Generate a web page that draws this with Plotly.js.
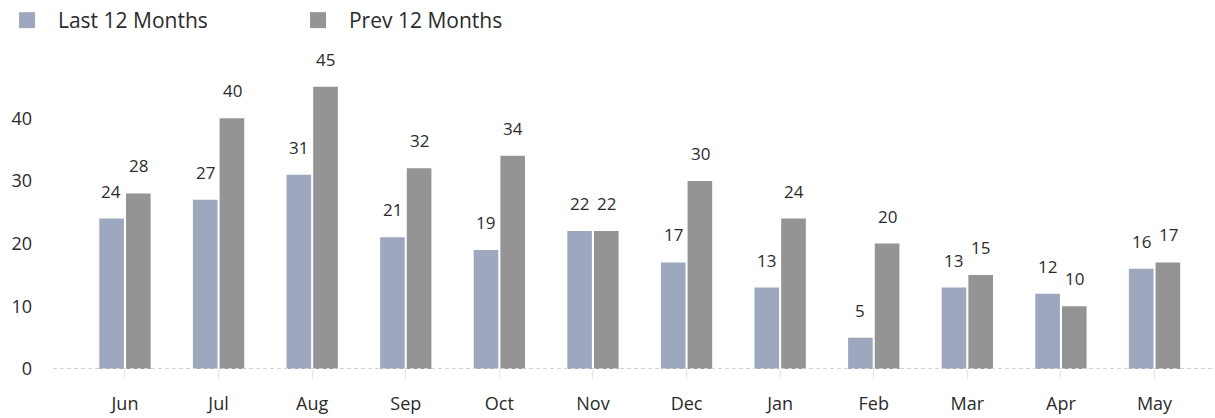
<!DOCTYPE html>
<html>
<head>
<meta charset="utf-8">
<script src="https://cdn.plot.ly/plotly-3.0.1.min.js"></script>
<style>html,body{margin:0;padding:0;background:#fff;}#chart{width:1215px;height:418px;}</style>
</head>
<body>
<div id="chart"></div>
<script>
var months = ["Jun","Jul","Aug","Sep","Oct","Nov","Dec","Jan","Feb","Mar","Apr","May"];
var last12 = [24,27,31,21,19,22,17,13,5,13,12,16];
var prev12 = [28,40,45,32,34,22,30,24,20,15,10,17];
var seriesNames = ["Last 12 Months","Prev 12 Months"];
var seriesColors = ["#9DA8BE","#949494"];
var yTicks = [0,10,20,30,40];

var FONT = "Open Sans, sans-serif";
var TEXT = "#2b2b2b";

var traces = [
  {type:"bar", x:months, y:last12, name:seriesNames[0], marker:{color:seriesColors[0]}, showlegend:false, hoverinfo:"x+y"},
  {type:"bar", x:months, y:prev12, name:seriesNames[1], marker:{color:seriesColors[1]}, showlegend:false, hoverinfo:"x+y"},
  {type:"scatter", mode:"markers", x:[null], y:[null], name:"\u00a0\u00a0" + seriesNames[0], marker:{symbol:"square", size:16, color:seriesColors[0]}},
  {type:"scatter", mode:"markers", x:[null], y:[null], name:"\u00a0\u00a0" + seriesNames[1], marker:{symbol:"square", size:16, color:seriesColors[1]}}
];

var annotations = [];
[last12, prev12].forEach(function(vals, s){
  vals.forEach(function(v, i){
    annotations.push({x:months[i], y:v, xref:"x", yref:"y", text:String(v), showarrow:false,
      xanchor:"center", yanchor:"bottom", xshift:(s===0?-13.5:13.5), yshift:14,
      font:{family:FONT, size:17, color:TEXT}});
  });
});

var layout = {
  width:1215, height:418,
  margin:{l:53, r:3, t:49, b:49},
  paper_bgcolor:"#fff", plot_bgcolor:"#fff",
  font:{family:FONT, color:TEXT},
  barmode:"group", bargap:0.43, bargroupgap:0.077,
  showlegend:true,
  legend:{orientation:"h", xref:"container", yref:"container", x:0.0058, y:1, xanchor:"left", yanchor:"top",
    font:{family:FONT, size:21, color:TEXT}, entrywidth:246, entrywidthmode:"pixels", bgcolor:"rgba(0,0,0,0)"},
  xaxis:{type:"category", range:[-0.769, 11.614], showgrid:false, zeroline:false, showline:false,
    ticks:"outside", ticklen:9, tickcolor:"#e2e2e2", tickwidth:1, ticklabelstandoff:9,
    tickfont:{family:FONT, size:18, color:TEXT}, fixedrange:true},
  yaxis:{range:[0, 51.04], tickvals:yTicks, ticktext:yTicks.map(String), showgrid:false, zeroline:false, showline:false,
    ticks:"", ticklabelstandoff:20, tickfont:{family:FONT, size:18, color:TEXT}, fixedrange:true},
  shapes:[{type:"line", xref:"paper", yref:"y", x0:0, x1:1, y0:0, y1:0, layer:"above",
    line:{color:"#d2d2d2", width:2, dash:"4px,3px"}}],
  annotations:annotations
};

Plotly.newPlot("chart", traces, layout, {displayModeBar:false, staticPlot:true});
</script>
</body>
</html>
